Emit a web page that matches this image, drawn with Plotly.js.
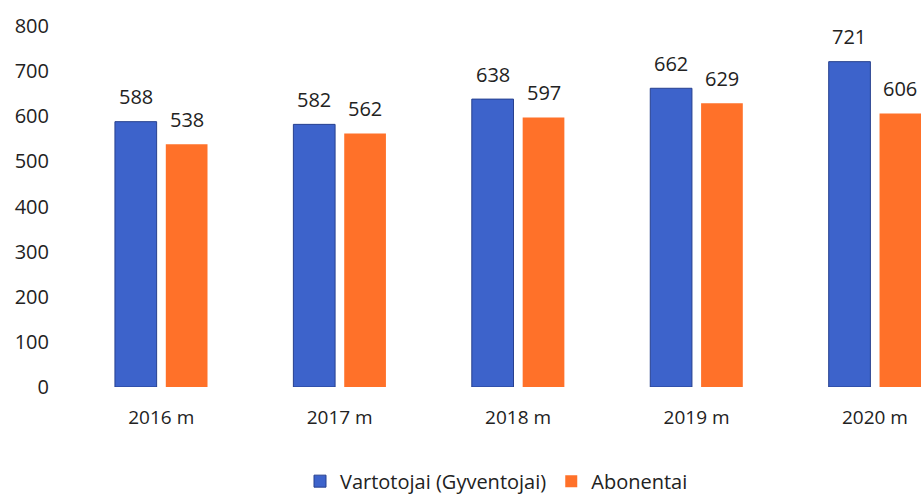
<!DOCTYPE html>
<html>
<head>
<meta charset="utf-8">
<script src="https://cdn.plot.ly/plotly-3.0.1.min.js"></script>
<style>html,body{margin:0;padding:0;background:#fff}#chart{width:921px;height:494px}</style>
</head>
<body>
<div id="chart"></div>
<script>
var categories = ["2016 m", "2017 m", "2018 m", "2019 m", "2020 m"];
var vartotojai = [588, 582, 638, 662, 721];
var abonentai = [538, 562, 597, 629, 606];
var seriesNames = ["Vartotojai (Gyventojai)", "Abonentai"];
var yTicks = [0, 100, 200, 300, 400, 500, 600, 700, 800];

var FONT = "Open Sans, Lato, sans-serif";
var blue = "#3d63cb", orange = "#ff7129";

var traces = [
  {type: "bar", name: seriesNames[0], x: categories, y: vartotojai,
   marker: {color: blue, line: {color: "#27408f", width: 1}}, hoverinfo: "none"},
  {type: "bar", name: seriesNames[1], x: categories, y: abonentai,
   marker: {color: orange, line: {width: 0}}, hoverinfo: "none"}
];

var annotations = [];
categories.forEach(function(c, i) {
  annotations.push({x: c, y: vartotojai[i], text: String(vartotojai[i]), showarrow: false,
    xshift: -25.5, yshift: 25, yanchor: "middle", font: {family: FONT, size: 20, color: "#222"}});
  annotations.push({x: c, y: abonentai[i], text: String(abonentai[i]), showarrow: false,
    xshift: 25.5, yshift: 25, yanchor: "middle", font: {family: FONT, size: 20, color: "#222"}});
});

var layout = {
  width: 921, height: 494,
  margin: {l: 72, r: 0, t: 26, b: 107},
  paper_bgcolor: "#fff", plot_bgcolor: "#fff",
  barmode: "group", bargap: 0.43, bargroupgap: 0.18,
  showlegend: true,
  legend: {orientation: "h", x: 0.5, xanchor: "center", yref: "container", y: 0.026, yanchor: "middle",
    font: {family: FONT, size: 20, color: "#222"}, itemwidth: 30, traceorder: "normal"},
  xaxis: {type: "category", range: [-0.5, 4.258], showline: false, showgrid: false, zeroline: false,
    ticks: "", tickfont: {family: FONT, size: 19, color: "#222"}, ticklabelstandoff: 17},
  yaxis: {range: [0, 800], tickvals: yTicks, showline: false, showgrid: false, zeroline: false,
    ticks: "", tickfont: {family: FONT, size: 20, color: "#222"}, ticklabelstandoff: 22},
  annotations: annotations,
  font: {family: FONT}
};

Plotly.newPlot("chart", traces, layout, {displayModeBar: false, staticPlot: true});
</script>
</body>
</html>
